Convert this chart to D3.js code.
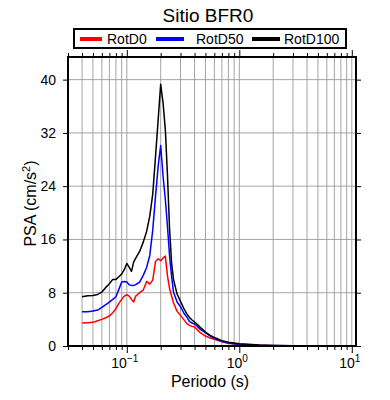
<!DOCTYPE html>
<html>
<head>
<meta charset="utf-8">
<script src="https://cdn.jsdelivr.net/npm/d3@7"></script>
<style>
  body { margin: 0; background: #fff; }
  text { font-family: "Liberation Sans", Arial, sans-serif; fill: #000; }
</style>
</head>
<body>
<div id="chart"></div>
<script>
// chart size
const svgWidth = 390;
const svgHeight = 400;

const margin = { top: 57, right: 34, bottom: 54, left: 68 };
const chartWidth = svgWidth - margin.left - margin.right;
const chartHeight = svgHeight - margin.top - margin.bottom;

// data ----------------------------------------------------------------------
const periods = [0.04, 0.045, 0.05, 0.055, 0.06, 0.065, 0.07, 0.075, 0.08, 0.085,
  0.09, 0.095, 0.1, 0.105, 0.11, 0.115, 0.12, 0.13, 0.14, 0.15, 0.16, 0.17, 0.18,
  0.19, 0.2, 0.21, 0.22, 0.23, 0.24, 0.25, 0.26, 0.28, 0.3, 0.32, 0.34, 0.36, 0.38,
  0.4, 0.42, 0.45, 0.5, 0.55, 0.6, 0.7, 0.8, 0.9, 1.0, 1.2, 1.5, 2.0, 3.0, 4.0,
  5.0, 7.5, 10.0];

const rotD0 = [3.45, 3.5, 3.55, 3.8, 4.0, 4.25, 4.5, 5.0, 5.6, 6.4,
  7.0, 7.5, 7.7, 7.5, 7.0, 6.6, 7.5, 8.0, 8.4, 9.7, 9.3, 9.9, 12.7,
  13.1, 12.8, 13.2, 13.5, 10.5, 8.6, 7.5, 6.5, 5.2, 4.6, 4.0, 3.4, 3.1, 2.95,
  2.85, 2.5, 2.0, 1.5, 1.2, 1.0, 0.65, 0.4, 0.3, 0.22, 0.15, 0.1, 0.05, 0.03, 0.02,
  0.015, 0.01, 0.01];

const rotD50 = [5.15, 5.15, 5.25, 5.4, 5.8, 6.2, 6.6, 7.0, 7.4, 8.5,
  9.6, 9.7, 9.6, 9.2, 9.1, 9.1, 9.2, 9.6, 10.6, 11.8, 13.6, 17.4, 22.5,
  27.0, 30.1, 25.5, 22.0, 17.9, 13.5, 10.5, 8.1, 6.6, 5.9, 5.0, 4.4, 3.7, 3.45,
  3.3, 3.0, 2.5, 2.0, 1.5, 1.15, 0.7, 0.45, 0.35, 0.28, 0.2, 0.12, 0.07, 0.04, 0.03,
  0.02, 0.01, 0.01];

const rotD100 = [7.4, 7.55, 7.6, 7.75, 8.1, 8.8, 9.35, 10.0, 10.0, 10.4,
  10.8, 11.5, 12.4, 11.8, 11.2, 12.6, 13.2, 14.2, 15.6, 17.2, 19.5, 22.8, 28.5,
  34.0, 39.3, 36.5, 32.5, 25.5, 17.5, 12.5, 10.0, 7.8, 6.7, 5.7, 4.9, 4.3, 3.9,
  3.6, 3.3, 2.8, 2.1, 1.6, 1.3, 0.8, 0.55, 0.45, 0.35, 0.25, 0.15, 0.08, 0.04, 0.03,
  0.02, 0.01, 0.01];

const seriesNames = ["RotD0", "RotD50", "RotD100"];
const seriesColors = ["#ff0000", "#0000ff", "#000000"];
const seriesValues = [rotD0, rotD50, rotD100];

const yTicks = [0, 8, 16, 24, 32, 40];
const xMajor = [0.1, 1, 10];
const xExp = ["\u22121", "0", "1"];

// svg -----------------------------------------------------------------------
const svg = d3.select("#chart").append("svg")
    .attr("width", svgWidth)
    .attr("height", svgHeight);

const chartG = svg.append("g")
    .attr("transform", `translate(${margin.left}, ${margin.top})`);

// scales
const x = d3.scaleLog()
    .domain([0.03, 10.9])
    .range([0, chartWidth]);

const y = d3.scaleLinear()
    .domain([0, 43.4])
    .range([chartHeight, 0]);

const xAll = x.ticks().filter(d => d >= 0.03 && d <= 10.9);
const isMajor = d => xMajor.some(m => Math.abs(m - d) < 1e-9);

// grid
chartG.append("g").selectAll("line")
    .data(xAll.filter(d => d > 0.031))
    .enter().append("line")
    .attr("x1", d => x(d)).attr("x2", d => x(d))
    .attr("y1", 0).attr("y2", chartHeight)
    .attr("stroke", "#9a9a9a").attr("stroke-width", 0.9);

chartG.append("g").selectAll("line")
    .data(yTicks.filter(d => d > 0))
    .enter().append("line")
    .attr("x1", 0).attr("x2", chartWidth)
    .attr("y1", d => y(d)).attr("y2", d => y(d))
    .attr("stroke", "#9a9a9a").attr("stroke-width", 0.9);

// lines
const line = d3.line()
    .x((d, i) => x(periods[i]))
    .y(d => y(d));

seriesValues.forEach((vals, i) => {
  chartG.append("path")
      .datum(vals)
      .attr("d", line)
      .attr("fill", "none")
      .attr("stroke", seriesColors[i])
      .attr("stroke-width", 1.5)
      .attr("stroke-linejoin", "round");
});

// axes: ticks on all four sides
const tickLen = d => isMajor(d) ? 7 : 4;

const bottomG = chartG.append("g")
    .attr("transform", `translate(0, ${chartHeight})`)
    .call(d3.axisBottom(x).tickValues(xAll).tickFormat("").tickSizeOuter(0));
bottomG.selectAll(".tick line").attr("y2", d => tickLen(d)).attr("stroke-width", 1);

const topG = chartG.append("g")
    .call(d3.axisTop(x).tickValues(xAll).tickFormat("").tickSizeOuter(0));
topG.selectAll(".tick line").attr("y2", d => -tickLen(d)).attr("stroke-width", 1);

chartG.append("g")
    .call(d3.axisLeft(y).tickValues(yTicks).tickSize(5).tickSizeOuter(0).tickFormat(""));

chartG.append("g")
    .attr("transform", `translate(${chartWidth}, 0)`)
    .call(d3.axisRight(y).tickValues(yTicks).tickSize(5).tickSizeOuter(0).tickFormat(""));

chartG.selectAll(".domain").remove();

// frame
chartG.append("rect")
    .attr("width", chartWidth)
    .attr("height", chartHeight)
    .attr("fill", "none")
    .attr("stroke", "#000")
    .attr("stroke-width", 2);

// tick labels
chartG.append("g").selectAll("text")
    .data(yTicks)
    .enter().append("text")
    .attr("x", -12)
    .attr("y", d => y(d))
    .attr("dy", "0.36em")
    .attr("text-anchor", "end")
    .attr("font-size", 14)
    .text(d => d);

const xLab = chartG.append("g").selectAll("text")
    .data(xMajor)
    .enter().append("text")
    .attr("x", d => x(d) - 2)
    .attr("y", chartHeight + 22)
    .attr("text-anchor", "middle")
    .attr("font-size", 14);
xLab.append("tspan").text("10");
xLab.append("tspan")
    .attr("dy", -6)
    .attr("font-size", 10)
    .text((d, i) => xExp[i]);

// axis titles
svg.append("text")
    .attr("x", margin.left + chartWidth / 2 - 2)
    .attr("y", 387)
    .attr("text-anchor", "middle")
    .attr("font-size", 16)
    .text("Periodo (s)");

const yTitle = svg.append("text")
    .attr("transform", `translate(36, ${margin.top + chartHeight / 2 + 2}) rotate(-90)`)
    .attr("text-anchor", "middle")
    .attr("font-size", 16);
yTitle.append("tspan").text("PSA (cm/s");
yTitle.append("tspan").attr("dy", -6).attr("font-size", 11).text("2");
yTitle.append("tspan").attr("dy", 6).text(")");

// title
svg.append("text")
    .attr("x", 208)
    .attr("y", 22)
    .attr("text-anchor", "middle")
    .attr("font-size", 19)
    .text("Sitio BFR0");

// legend
const legendG = svg.append("g");
legendG.append("rect")
    .attr("x", 74).attr("y", 29)
    .attr("width", 272).attr("height", 19)
    .attr("fill", "#fff")
    .attr("stroke", "#000")
    .attr("stroke-width", 2);

const legendX = [80, 156, 252];
const legendItem = legendG.selectAll("g.item")
    .data(seriesNames)
    .enter().append("g")
    .attr("class", "item")
    .attr("transform", (d, i) => `translate(${legendX[i]}, 39)`);

legendItem.append("line")
    .attr("x1", 0).attr("x2", (d, i) => i === 0 ? 22 : 28)
    .attr("stroke", (d, i) => seriesColors[i])
    .attr("stroke-width", 4);

legendItem.append("text")
    .attr("x", (d, i) => i === 0 ? 27 : (i === 1 ? 40 : 32))
    .attr("y", 5)
    .attr("font-size", 14)
    .text(d => d);
</script>
</body>
</html>
